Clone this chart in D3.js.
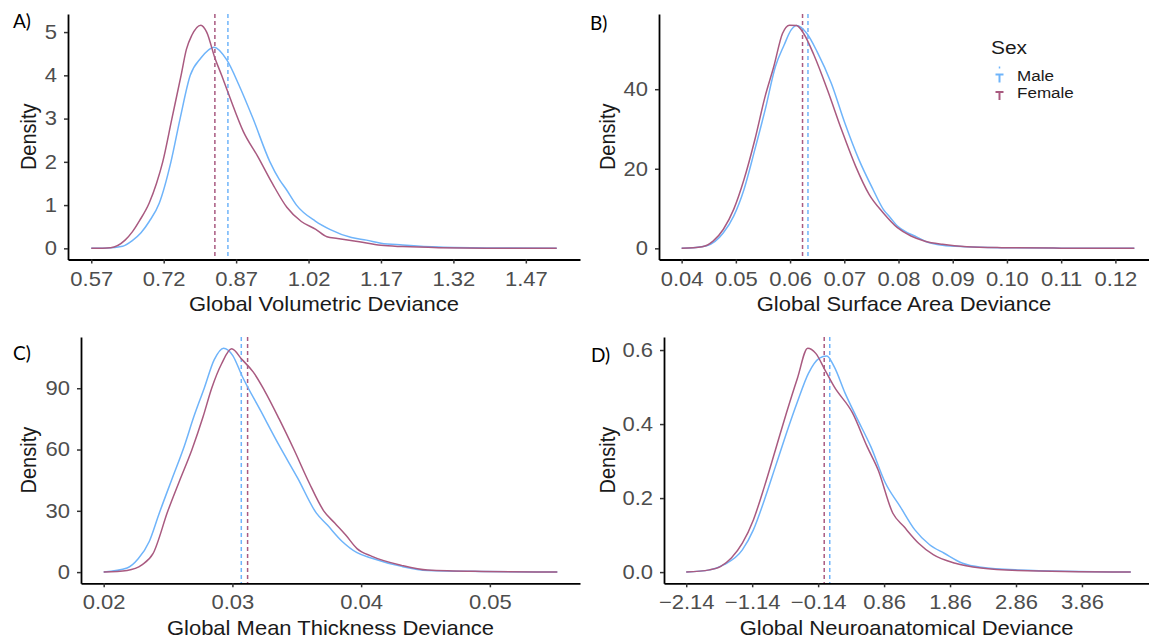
<!DOCTYPE html>
<html>
<head>
<meta charset="utf-8">
<script src="https://cdn.jsdelivr.net/npm/d3@7"></script>
<style>
  body { margin: 0; background: #fff; }
  svg text { font-family: "Liberation Sans", Arial, sans-serif; }
</style>
</head>
<body>
<div id="chart"></div>
<script>
// density curves, [deviance, density]
const volFemale = [[0.57,0],[0.61,0.015],[0.64,0.19],[0.655,0.38],[0.67,0.64],[0.69,1.05],[0.705,1.5],[0.718,2.0],[0.737,3.0],[0.756,4.0],[0.767,4.6],[0.778,4.92],[0.797,5.16],[0.809,5.0],[0.826,4.4],[0.84,4.0],[0.855,3.55],[0.885,2.7],[0.915,2.12],[0.945,1.5],[0.975,0.95],[1.005,0.62],[1.035,0.44],[1.058,0.27],[1.08,0.23],[1.125,0.15],[1.17,0.07],[1.215,0.04],[1.29,0.015],[1.40,0.004],[1.534,0]];
const volMale = [[0.57,0],[0.60,0.005],[0.635,0.05],[0.655,0.18],[0.673,0.36],[0.69,0.62],[0.711,1.05],[0.735,2.0],[0.754,3.0],[0.775,4.0],[0.797,4.4],[0.824,4.65],[0.851,4.35],[0.876,3.77],[0.905,3.0],[0.94,2.0],[0.959,1.6],[0.974,1.36],[0.995,1.0],[1.034,0.63],[1.064,0.44],[1.109,0.25],[1.14,0.19],[1.17,0.12],[1.215,0.08],[1.29,0.03],[1.40,0.008],[1.534,0]];
const volMeans = {female: 0.826, male: 0.853};
const volTicks = [0.57,0.72,0.87,1.02,1.17,1.32,1.47];
const volYTicks = [0,1,2,3,4,5];

const saFemale = [[0.04,0],[0.0438,0.4],[0.0458,1.8],[0.0477,4.8],[0.0496,9.8],[0.0515,17.3],[0.0535,27.3],[0.0554,38.2],[0.057,45.7],[0.0586,54],[0.0599,56.1],[0.0612,56],[0.0625,54],[0.0644,48.6],[0.0669,39.8],[0.0695,29.8],[0.0721,20.6],[0.0746,13.5],[0.0772,8.9],[0.0798,5.2],[0.0823,3.1],[0.0849,1.8],[0.0881,1.0],[0.0926,0.4],[0.099,0.17],[0.11,0.05],[0.1235,0]];
const saMale = [[0.04,0],[0.0445,0.6],[0.0477,3.9],[0.0496,8.1],[0.0515,14.8],[0.0535,24.8],[0.0554,34.8],[0.0573,45.7],[0.0589,51.1],[0.0602,54.9],[0.0612,56],[0.0631,54],[0.065,49.4],[0.0676,41.5],[0.0701,31.5],[0.0727,22.3],[0.0753,14.8],[0.0772,9.8],[0.0785,7.7],[0.0798,5.6],[0.0817,3.9],[0.083,3.1],[0.0849,1.8],[0.0881,0.8],[0.0926,0.4],[0.099,0.17],[0.11,0.05],[0.1235,0]];
const saMeans = {female: 0.0623, male: 0.0633};
const saTicks = [0.04,0.05,0.06,0.07,0.08,0.09,0.10,0.11,0.12];
const saYTicks = [0,20,40];

const ctFemale = [[0.02,0],[0.02182,0.8],[0.02297,3.5],[0.02383,9],[0.02499,30],[0.02585,44],[0.02686,60],[0.02772,76],[0.02839,90],[0.02916,102],[0.02994,109.3],[0.03075,104],[0.03161,98],[0.03248,89],[0.03363,75],[0.03478,60],[0.03594,44],[0.03709,30],[0.03795,24],[0.03882,18],[0.03968,11.5],[0.04084,7.7],[0.04314,3.3],[0.04516,1],[0.04948,0.3],[0.05524,0]];
const ctMale = [[0.02,0],[0.02182,2],[0.02268,6.5],[0.02354,15],[0.02427,28],[0.02527,45],[0.02628,62],[0.0270,76],[0.02781,90],[0.02859,104],[0.02931,109.6],[0.03003,106],[0.03075,96],[0.03219,79],[0.03363,62],[0.03507,46],[0.03651,29],[0.03738,23],[0.03853,15],[0.03968,9.5],[0.04084,6.8],[0.04314,2.8],[0.04516,0.8],[0.04948,0.3],[0.05524,0]];
const ctMeans = {female: 0.03118, male: 0.03069};
const ctTicks = [0.02,0.03,0.04,0.05];
const ctYTicks = [0,30,60,90];

const naFemale = [[-2.14,0],[-1.789,0.006],[-1.622,0.015],[-1.456,0.038],[-1.289,0.078],[-1.122,0.141],[-0.955,0.231],[-0.788,0.33],[-0.621,0.43],[-0.454,0.524],[-0.298,0.605],[-0.176,0.591],[-0.036,0.546],[0.103,0.501],[0.381,0.43],[0.603,0.339],[0.77,0.276],[0.993,0.159],[1.16,0.123],[1.383,0.078],[1.605,0.047],[1.939,0.024],[2.329,0.011],[2.885,0.0045],[4.6,0]];
const naMale = [[-2.14,0],[-1.78,0.006],[-1.567,0.02],[-1.289,0.06],[-1.122,0.114],[-0.955,0.195],[-0.788,0.285],[-0.621,0.375],[-0.454,0.46],[-0.287,0.537],[-0.12,0.578],[-0.009,0.584],[0.103,0.555],[0.27,0.483],[0.437,0.42],[0.659,0.339],[0.882,0.24],[1.104,0.177],[1.327,0.114],[1.55,0.074],[1.772,0.051],[2.05,0.024],[2.329,0.013],[2.885,0.006],[4.6,0]];
const naMeans = {female: -0.048, male: 0.036};
const naTicks = [-2.14,-1.14,-0.14,0.86,1.86,2.86,3.86];
const naYTicks = [0,0.2,0.4,0.6];

const sexLabels = ["Male","Female"];
const sexColors = {male: "#6fb4fa", female: "#a95a80"};

// text in the figure is drawn a little wider than tall
const SX = 1.1;

const panels = [
  {tag:"A)", title:"Global Volumetric Deviance", female:volFemale, male:volMale, means:volMeans,
   xt:volTicks, yt:volYTicks, xf:d3.format(".2f"), yf:d3.format("d"),
   box:{l:68, r:580, t:14, b:259.5}, tagPos:[13,28], ytx:36},
  {tag:"B)", title:"Global Surface Area Deviance", female:saFemale, male:saMale, means:saMeans,
   xt:saTicks, yt:saYTicks, xf:d3.format(".2f"), yf:d3.format("d"),
   box:{l:659, r:1157, t:14, b:259.5}, tagPos:[590,30], ytx:615},
  {tag:"C)", title:"Global Mean Thickness Deviance", female:ctFemale, male:ctMale, means:ctMeans,
   xt:ctTicks, yt:ctYTicks, xf:d3.format(".2f"), yf:d3.format("d"),
   box:{l:81, r:580, t:337, b:583.3}, tagPos:[13,360], ytx:36},
  {tag:"D)", title:"Global Neuroanatomical Deviance", female:naFemale, male:naMale, means:naMeans,
   xt:naTicks, yt:naYTicks, xf:d3.format(".2f"), yf:d3.format(".1f"),
   box:{l:664, r:1153, t:337, b:583.3}, tagPos:[591,362], ytx:615}
];

const svg = d3.select("#chart").append("svg")
  .attr("width", 1149).attr("height", 640);

// titles centred on the visible plot panel
const titleW = panels.map(p => (p.box.l + Math.min(p.box.r, 1149)) / 2);

panels.forEach((p, i) => {
  const all = p.female.concat(p.male);
  const [x0, x1] = d3.extent(all, d => d[0]);
  const yMax = d3.max(all, d => d[1]);
  const xPad = (x1 - x0) * 0.05;

  const x = d3.scaleLinear().domain([x0 - xPad, x1 + xPad]).range([p.box.l, p.box.r]);
  const y = d3.scaleLinear().domain([-yMax * 0.05, yMax * 1.05]).range([p.box.b, p.box.t]);

  const g = svg.append("g");

  // mean lines
  [["female", p.means.female], ["male", p.means.male]].forEach(([k, v]) => {
    g.append("line")
      .attr("x1", x(v)).attr("x2", x(v))
      .attr("y1", p.box.t).attr("y2", p.box.b)
      .attr("stroke", sexColors[k]).attr("stroke-width", 1.5)
      .attr("stroke-dasharray", "4,3");
  });

  const line = d3.line().x(d => x(d[0])).y(d => y(d[1])).curve(d3.curveMonotoneX);
  g.append("path").datum(p.male).attr("d", line)
    .attr("fill", "none").attr("stroke", sexColors.male).attr("stroke-width", 1.5);
  g.append("path").datum(p.female).attr("d", line)
    .attr("fill", "none").attr("stroke", sexColors.female).attr("stroke-width", 1.5);

  // axes
  const xa = g.append("g").attr("transform", `translate(0,${p.box.b})`)
    .call(d3.axisBottom(x).tickValues(p.xt).tickFormat(p.xf).tickSizeInner(4).tickSizeOuter(0).tickPadding(8));
  const ya = g.append("g").attr("transform", `translate(${p.box.l},0)`)
    .call(d3.axisLeft(y).tickValues(p.yt).tickFormat(p.yf).tickSizeInner(4).tickSizeOuter(0).tickPadding(7));
  [xa, ya].forEach(a => {
    a.select(".domain").attr("stroke", "#000").attr("stroke-width", 1.8);
    a.selectAll(".tick line").attr("stroke", "#333").attr("stroke-width", 1.5);
    a.selectAll(".tick text").attr("fill", "#4d4d4d").style("font-size", "20px")
      .attr("transform", `scale(${SX},1)`);
  });
  ya.selectAll(".tick text").attr("x", -11 / SX);

  g.append("text")
    .attr("transform", `translate(${titleW[i]},${p.box.b + 51.5}) scale(${SX},1)`)
    .attr("text-anchor", "middle").attr("fill", "#1a1a1a")
    .style("font-size", "20px").text(p.title);

  g.append("text")
    .attr("transform", `translate(${p.ytx},${(p.box.t + p.box.b) / 2}) scale(${SX},1) rotate(-90)`)
    .attr("text-anchor", "middle").attr("fill", "#1a1a1a")
    .style("font-size", "20px").text("Density");

  g.append("text")
    .attr("x", p.tagPos[0]).attr("y", p.tagPos[1])
    .attr("fill", "#000").style("font-family", "Lato, sans-serif")
    .style("font-size", "19px").text(p.tag);
});

// legend
const leg = svg.append("g");
leg.append("text").attr("transform", `translate(991,54) scale(${SX},1)`).attr("fill", "#1a1a1a")
  .style("font-size", "19px").text("Sex");
sexLabels.forEach((lab, i) => {
  const c = sexColors[lab.toLowerCase()];
  const by = 74.5 + i * 17.5;
  if (i === 0) {
    leg.append("line").attr("x1", 999.5).attr("x2", 999.5).attr("y1", by - 8).attr("y2", by - 6)
      .attr("stroke", c).attr("stroke-width", 1.5);
  }
  leg.append("line").attr("x1", 995.5).attr("x2", 1003.5).attr("y1", by).attr("y2", by)
    .attr("stroke", c).attr("stroke-width", 2);
  leg.append("line").attr("x1", 999.5).attr("x2", 999.5).attr("y1", by).attr("y2", by + 8)
    .attr("stroke", c).attr("stroke-width", 2);
  leg.append("text").attr("transform", `translate(1017,${by + 6}) scale(${SX},1)`).attr("fill", "#1a1a1a")
    .style("font-size", "15.5px").text(lab);
});
</script>
</body>
</html>
